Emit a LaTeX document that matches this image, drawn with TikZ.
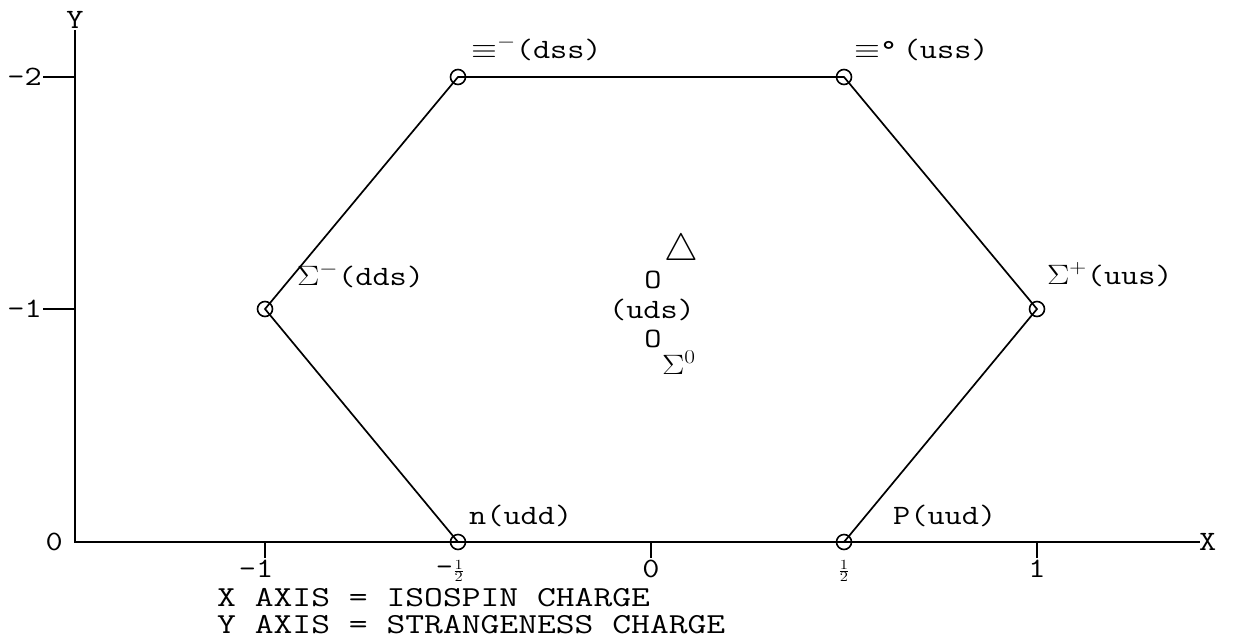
\RequirePackage{fix-cm}
\documentclass[tikz,border=0pt]{standalone}
\usepackage{fontspec}
\usepackage{graphicx}
\newcommand\stx[1]{\scalebox{1.19}[1]{#1}}
\newcommand\stc[1]{\scalebox{1.26}[1]{#1}}
\begin{document}
\begin{tikzpicture}[x=1pt,y=-1pt,
  lbl/.style={inner sep=0pt,font=\ttfamily\fontsize{28}{32}\selectfont},
  captext/.style={inner sep=0pt,font=\ttfamily\fontsize{29}{33}\selectfont},
  vtx/.style={circle,draw,line width=1.6pt,minimum size=15pt,inner sep=0pt},
  ln/.style={line width=1.7pt}]
\useasboundingbox (0,0) rectangle (1236,641);
% axes
\coordinate (ytop) at (75,30);
\coordinate (orig) at (75,542);
\coordinate (xr) at (1200,542);
\draw[ln] (ytop) -- (orig) -- (xr);
\node[lbl,anchor=base] (Ylab) at (75,28) {\stx{Y}};
\node[lbl,anchor=west] (Xlab) at (1199,542) {\stx{X}};
% y ticks
\coordinate (ty2a) at (43,77); \coordinate (ty2b) at (75,77);
\coordinate (ty1a) at (43,309); \coordinate (ty1b) at (75,309);
\draw[ln] (ty2a) -- (ty2b);
\draw[ln] (ty1a) -- (ty1b);
\node[lbl,anchor=east] (ym2) at (42,77) {\stx{-2}};
\node[lbl,anchor=east] (ym1) at (42,309) {\stx{-1}};
\node[lbl,anchor=east] (y0) at (63,542) {\stx{0}};
% x ticks
\foreach \xx/\nm in {265/a,651/b,1037/c}{
  \coordinate (tx\nm1) at (\xx,542); \coordinate (tx\nm2) at (\xx,558);
  \draw[ln] (tx\nm1) -- (tx\nm2);
}
\node[lbl,anchor=base] (xm1) at (256,577) {\stx{-1}};
\node[lbl,anchor=base] (xmh) at (450,575) {\stx{-$\scriptscriptstyle\frac{1}{2}$}};
\node[lbl,anchor=base] (x0) at (651,577) {\stx{0}};
\node[lbl,anchor=base] (xph) at (844,575) {\stx{$\scriptscriptstyle\frac{1}{2}$}};
\node[lbl,anchor=base] (xp1) at (1037,577) {\stx{1}};
\node[captext,anchor=base west] (cap1) at (217,606) {\stc{X AXIS = ISOSPIN CHARGE}};
\node[captext,anchor=base west] (cap2) at (217,633) {\stc{Y AXIS = STRANGENESS CHARGE}};
% vertices
\node[vtx] (n) at (458,542) {};
\node[vtx] (p) at (844,542) {};
\node[vtx] (sp) at (1037,309) {};
\node[vtx] (x0v) at (844,77) {};
\node[vtx] (xm) at (458,77) {};
\node[vtx] (sm) at (265,309) {};
\draw[ln] (n.center) -- (p.center) -- (sp.center) -- (x0v.center) -- (xm.center) -- (sm.center) -- (n.center);
% labels
\node[lbl,anchor=base west] (lxm) at (471,58) {\stx{$\equiv^{-}$(dss)}};
\node[lbl,anchor=base west] (lx0) at (854,58) {\stx{$\equiv$°\,(uss)}};
\node[lbl,anchor=base west] (lsm) at (297,285) {\stx{$\Sigma^{-}$(dds)}};
\node[lbl,anchor=base west] (lsp) at (1047,284) {\stx{$\Sigma^{+}$(uus)}};
\node[lbl,anchor=base west] (ln) at (469,524) {\stx{n(udd)}};
\node[lbl,anchor=base west] (lp) at (893,524) {\stx{P(uud)}};
% centre
\node[lbl,font=\fontsize{38}{42}\selectfont] (tri) at (681,251) {$\triangle$};
\node[lbl,anchor=base] (o1) at (653,288) {\stx{O}};
\node[lbl,anchor=base] (uds) at (652,318) {\stx{(uds)}};
\node[lbl,anchor=base] (o2) at (653,347) {\stx{O}};
\node[lbl,anchor=base west] (s0) at (662,374) {\stx{$\Sigma^{0}$}};
\end{tikzpicture}
\end{document}
